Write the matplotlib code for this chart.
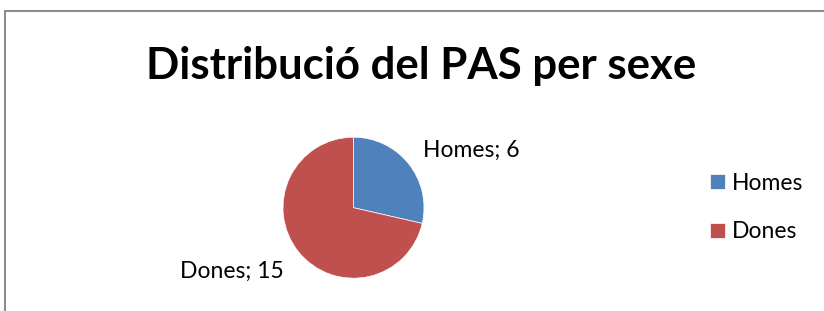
import matplotlib
matplotlib.use("Agg")
import matplotlib.pyplot as plt
from matplotlib.patches import Rectangle

# data
categories = ["Homes", "Dones"]
values = [6, 15]
colors = ["#4F81BD", "#C0504D"]
title = "Distribució del PAS per sexe"

W, H = 824, 311
fig = plt.figure(figsize=(W / 100, H / 100), dpi=100)
fig.patch.set_facecolor("white")

# chart border (Excel style, cut off at right and bottom)
fig.patches.append(Rectangle((5 / W, -0.1), 1.2, (H - 11) / H + 0.1,
                             transform=fig.transFigure, fill=False,
                             edgecolor="#8c8c8c", linewidth=1.5))

plt.rcParams['font.family'] = ['Lato', 'DejaVu Sans']

fig.text(421 / W, 1 - 66 / H, title, ha="center", va="center",
         fontsize=31.5, fontweight="bold", color="black")

# pie axes: centre (353.5, 207.7) px, radius 70.5 px
r = 70.5
cx, cy = 353.5, 207.7
ax = fig.add_axes([(cx - r) / W, (H - cy - r) / H, 2 * r / W, 2 * r / H])
wedges, _ = ax.pie(values, colors=colors, startangle=90, counterclock=False,
                   wedgeprops=dict(linewidth=0.5, edgecolor="white"))
ax.set_xlim(-1, 1)
ax.set_ylim(-1, 1)
ax.set_aspect("equal")
ax.axis("off")

label_pos = [(1.67, 0.82), (-1.73, -0.9)]
for (x, y), cat, v in zip(label_pos, categories, values):
    ax.text(x, y, f"{cat}; {v}", ha="center", va="center", fontsize=16.5,
            clip_on=False)

fig.legend(wedges, categories, loc="center left",
           bbox_to_anchor=(699 / W, 1 - 207.5 / H), frameon=False,
           fontsize=16.5, handlelength=0.65, handleheight=0.65,
           handletextpad=0.3, labelspacing=1.2, borderpad=0)

fig.savefig("out.png", dpi=100, facecolor="white")
